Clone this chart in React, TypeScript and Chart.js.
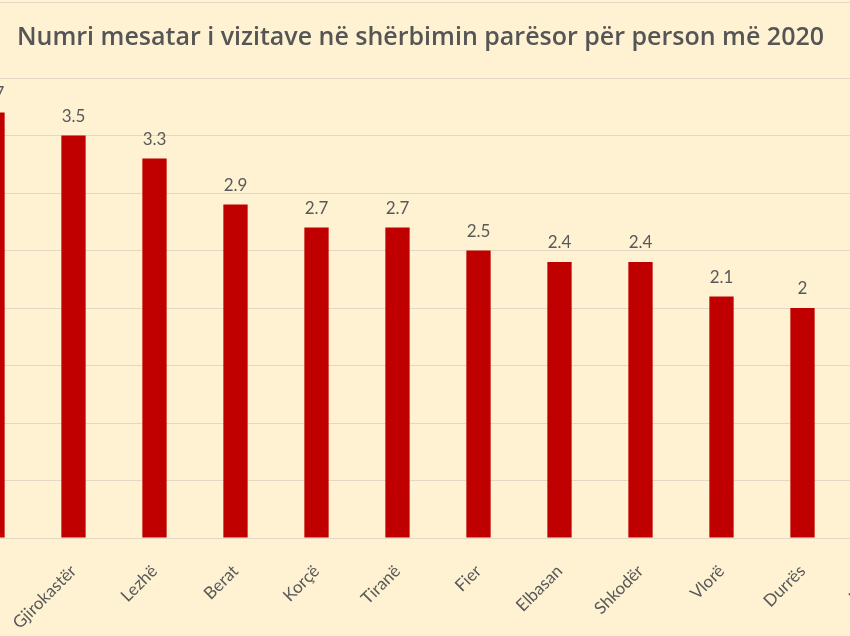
import React, { useEffect, useRef } from "react";
import { Chart, registerables } from "chart.js";

Chart.register(...registerables);

const categories = [
  "Dibër",
  "Gjirokastër",
  "Lezhë",
  "Berat",
  "Korçë",
  "Tiranë",
  "Fier",
  "Elbasan",
  "Shkodër",
  "Vlorë",
  "Durrës",
  "Kukës",
];
const values = [3.7, 3.5, 3.3, 2.9, 2.7, 2.7, 2.5, 2.4, 2.4, 2.1, 2, 1.8];
const titleText = "Numri mesatar i vizitave në shërbimin parësor për person më 2020";
const yMin = 0;
const yMax = 4;
const yStep = 0.5;

const TEXT = "#595959";
const BAR = "#C00000";
const BG = "#FEF2D2";
const GRID = "#E2D9C4";
const FONT = "Lato";

const valueLabels = {
  id: "valueLabels",
  afterDatasetsDraw(chart: any) {
    const ctx = chart.ctx;
    const meta = chart.getDatasetMeta(0);
    ctx.save();
    ctx.font = `17px ${FONT}`;
    ctx.fillStyle = TEXT;
    ctx.textAlign = "center";
    ctx.textBaseline = "alphabetic";
    meta.data.forEach((bar: any, i: number) => {
      ctx.fillText(String(values[i]), bar.x, bar.y - 14);
    });
    ctx.restore();
  },
};

export default function App() {
  const ref = useRef<HTMLCanvasElement | null>(null);

  useEffect(() => {
    if (!ref.current) return;
    const chart = new Chart(ref.current, {
      type: "bar",
      data: {
        labels: categories,
        datasets: [
          {
            data: values,
            backgroundColor: BAR,
            borderWidth: 0,
            categoryPercentage: 1,
            barPercentage: 0.3,
          },
        ],
      },
      options: {
        animation: false,
        responsive: false,
        maintainAspectRatio: false,
        layout: { padding: 0 },
        plugins: {
          legend: { display: false },
          tooltip: { enabled: false },
          title: {
            display: true,
            text: titleText,
            color: "#555555",
            font: { family: "Open Sans", size: 25, weight: "600" },
            padding: { top: 23, bottom: 25 },
          },
        },
        scales: {
          x: {
            grid: { display: false },
            border: { display: true, color: GRID, width: 1 },
            ticks: {
              color: TEXT,
              font: { family: FONT, size: 17 },
              minRotation: 45,
              maxRotation: 45,
              autoSkip: false,
              padding: 15,
            },
            afterFit: (s: any) => {
              s.height = 98;
            },
          },
          y: {
            min: yMin,
            max: yMax,
            ticks: { stepSize: yStep, display: false },
            grid: { color: GRID, drawTicks: false, lineWidth: 1 },
            border: { display: false },
            afterFit: (s: any) => {
              s.width = 35;
            },
          },
        },
      },
      plugins: [valueLabels],
    });
    return () => chart.destroy();
  }, []);

  return (
    <div
      style={{
        position: "fixed",
        left: 0,
        top: 0,
        width: 850,
        height: 636,
        overflow: "hidden",
        background: BG,
      }}
    >
      <div
        style={{
          position: "absolute",
          left: 0,
          top: 2,
          width: 850,
          height: 1,
          background: GRID,
        }}
      />
      <canvas
        ref={ref}
        width={1007}
        height={636}
        style={{ position: "absolute", left: -83, top: 0, width: 1007, height: 636 }}
      />
    </div>
  );
}
